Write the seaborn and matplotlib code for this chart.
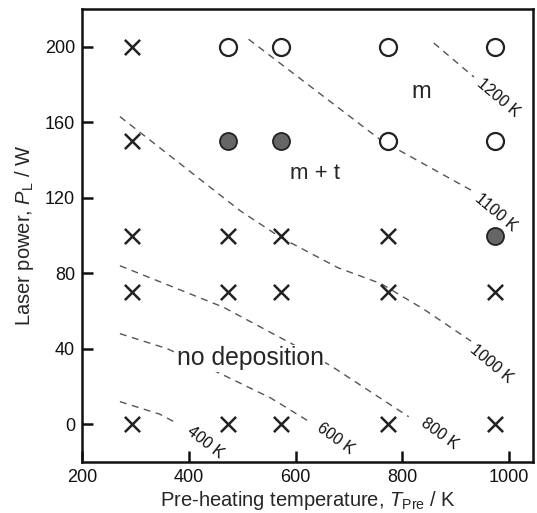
import numpy as np
import pandas as pd
import seaborn as sns
import matplotlib.pyplot as plt

temp_x = [293, 473, 573, 773, 973, 293, 473, 573, 773, 973, 293, 473, 573, 773, 973,
          293, 473, 573, 773, 973, 293, 473, 573, 773, 973]
power_y = [0, 0, 0, 0, 0, 70, 70, 70, 70, 70, 100, 100, 100, 100, 100,
           150, 150, 150, 150, 150, 200, 200, 200, 200, 200]
phase = ["none", "none", "none", "none", "none",
         "none", "none", "none", "none", "none",
         "none", "none", "none", "none", "mt",
         "none", "mt", "mt", "m", "m",
         "none", "m", "m", "m", "m"]

# isotherms (dashed), T_pre and P_L along each
iso_400_t = [271, 346, 378]
iso_400_p = [12, 5.3, 0.5]
iso_600_t = [271, 360, 469, 553, 628]
iso_600_p = [48, 40, 25.5, 14, 1]
iso_800_t = [271, 465, 594, 666, 812]
iso_800_p = [84, 62, 42.5, 31, 4]
iso_1000_t = [271, 497, 572, 679, 760, 840, 929]
iso_1000_p = [163, 113, 99, 83, 74.5, 61, 44]
iso_1100_t = [512, 760, 929]
iso_1100_p = [204, 150.5, 124]
iso_1200_t = [859, 934]
iso_1200_p = [202, 184]

iso_labels = ["400 K", "600 K", "800 K", "1000 K", "1100 K", "1200 K"]
iso_label_t = [431, 675, 869, 966, 976, 979]
iso_label_p = [-9.6, -7.5, -5, 32, 112, 173]
iso_label_rot = [-38, -36, -36, -40, -40, -40]

df = pd.DataFrame({"T": temp_x, "P": power_y, "phase": phase})

sns.set_style("ticks")
plt.rcParams["font.family"] = ["Liberation Sans", "DejaVu Sans"]
plt.rcParams["mathtext.fontset"] = "custom"
plt.rcParams["mathtext.it"] = "Liberation Sans:italic"
plt.rcParams["mathtext.rm"] = "Liberation Sans"

fig = plt.figure(figsize=(5.37, 5.13), dpi=100)
ax = fig.add_axes([0.1527, 0.0994, 0.84, 0.883])

isos = [(iso_400_t, iso_400_p), (iso_600_t, iso_600_p), (iso_800_t, iso_800_p),
        (iso_1000_t, iso_1000_p), (iso_1100_t, iso_1100_p), (iso_1200_t, iso_1200_p)]
for t, p in isos:
    sns.lineplot(x=t, y=p, sort=False, estimator=None, ax=ax, color="#555555",
                 lw=1.0, dashes=False, linestyle=(0, (5, 4)), zorder=1)

for lab, t, p, r in zip(iso_labels, iso_label_t, iso_label_p, iso_label_rot):
    ax.text(t, p, lab, rotation=r, ha="center", va="center", fontsize=11.5, color="#111111")

nd = df[df["phase"] == "none"]
sns.scatterplot(data=nd, x="T", y="P", marker="x", s=120, color="#222222",
                linewidth=1.8, ax=ax, zorder=3)
mm = df[df["phase"] == "m"]
sns.scatterplot(data=mm, x="T", y="P", marker="o", s=150, facecolor="white",
                edgecolor="#222222", linewidth=1.6, ax=ax, zorder=3)
mt = df[df["phase"] == "mt"]
sns.scatterplot(data=mt, x="T", y="P", marker="o", s=150, facecolor="#666666",
                edgecolor="#222222", linewidth=1.3, ax=ax, zorder=3)

ax.text(836, 176, "m", fontsize=17, ha="center", va="center")
ax.text(637, 133, "m + t", fontsize=16, ha="center", va="center")
ax.text(515, 35, "no deposition", fontsize=17.8, ha="center", va="center",
        bbox=dict(facecolor="white", edgecolor="none", pad=1), zorder=2)

ax.set_xlim(200, 1045)
ax.set_ylim(-20, 220)
ax.set_xticks([200, 400, 600, 800, 1000])
ax.set_yticks([0, 40, 80, 120, 160, 200])
ax.tick_params(direction="in", length=8, width=1.8, labelsize=13, pad=5, colors="#111111")
for s in ax.spines.values():
    s.set_linewidth(1.8)
    s.set_color("#111111")

ax.set_xlabel(r"Pre-heating temperature, $T_\mathrm{Pre}$ / K", fontsize=14.5, labelpad=2)
ax.set_ylabel(r"Laser power, $P_\mathrm{L}$ / W", fontsize=14.5, labelpad=6)

fig.savefig("out.png", dpi=100)
